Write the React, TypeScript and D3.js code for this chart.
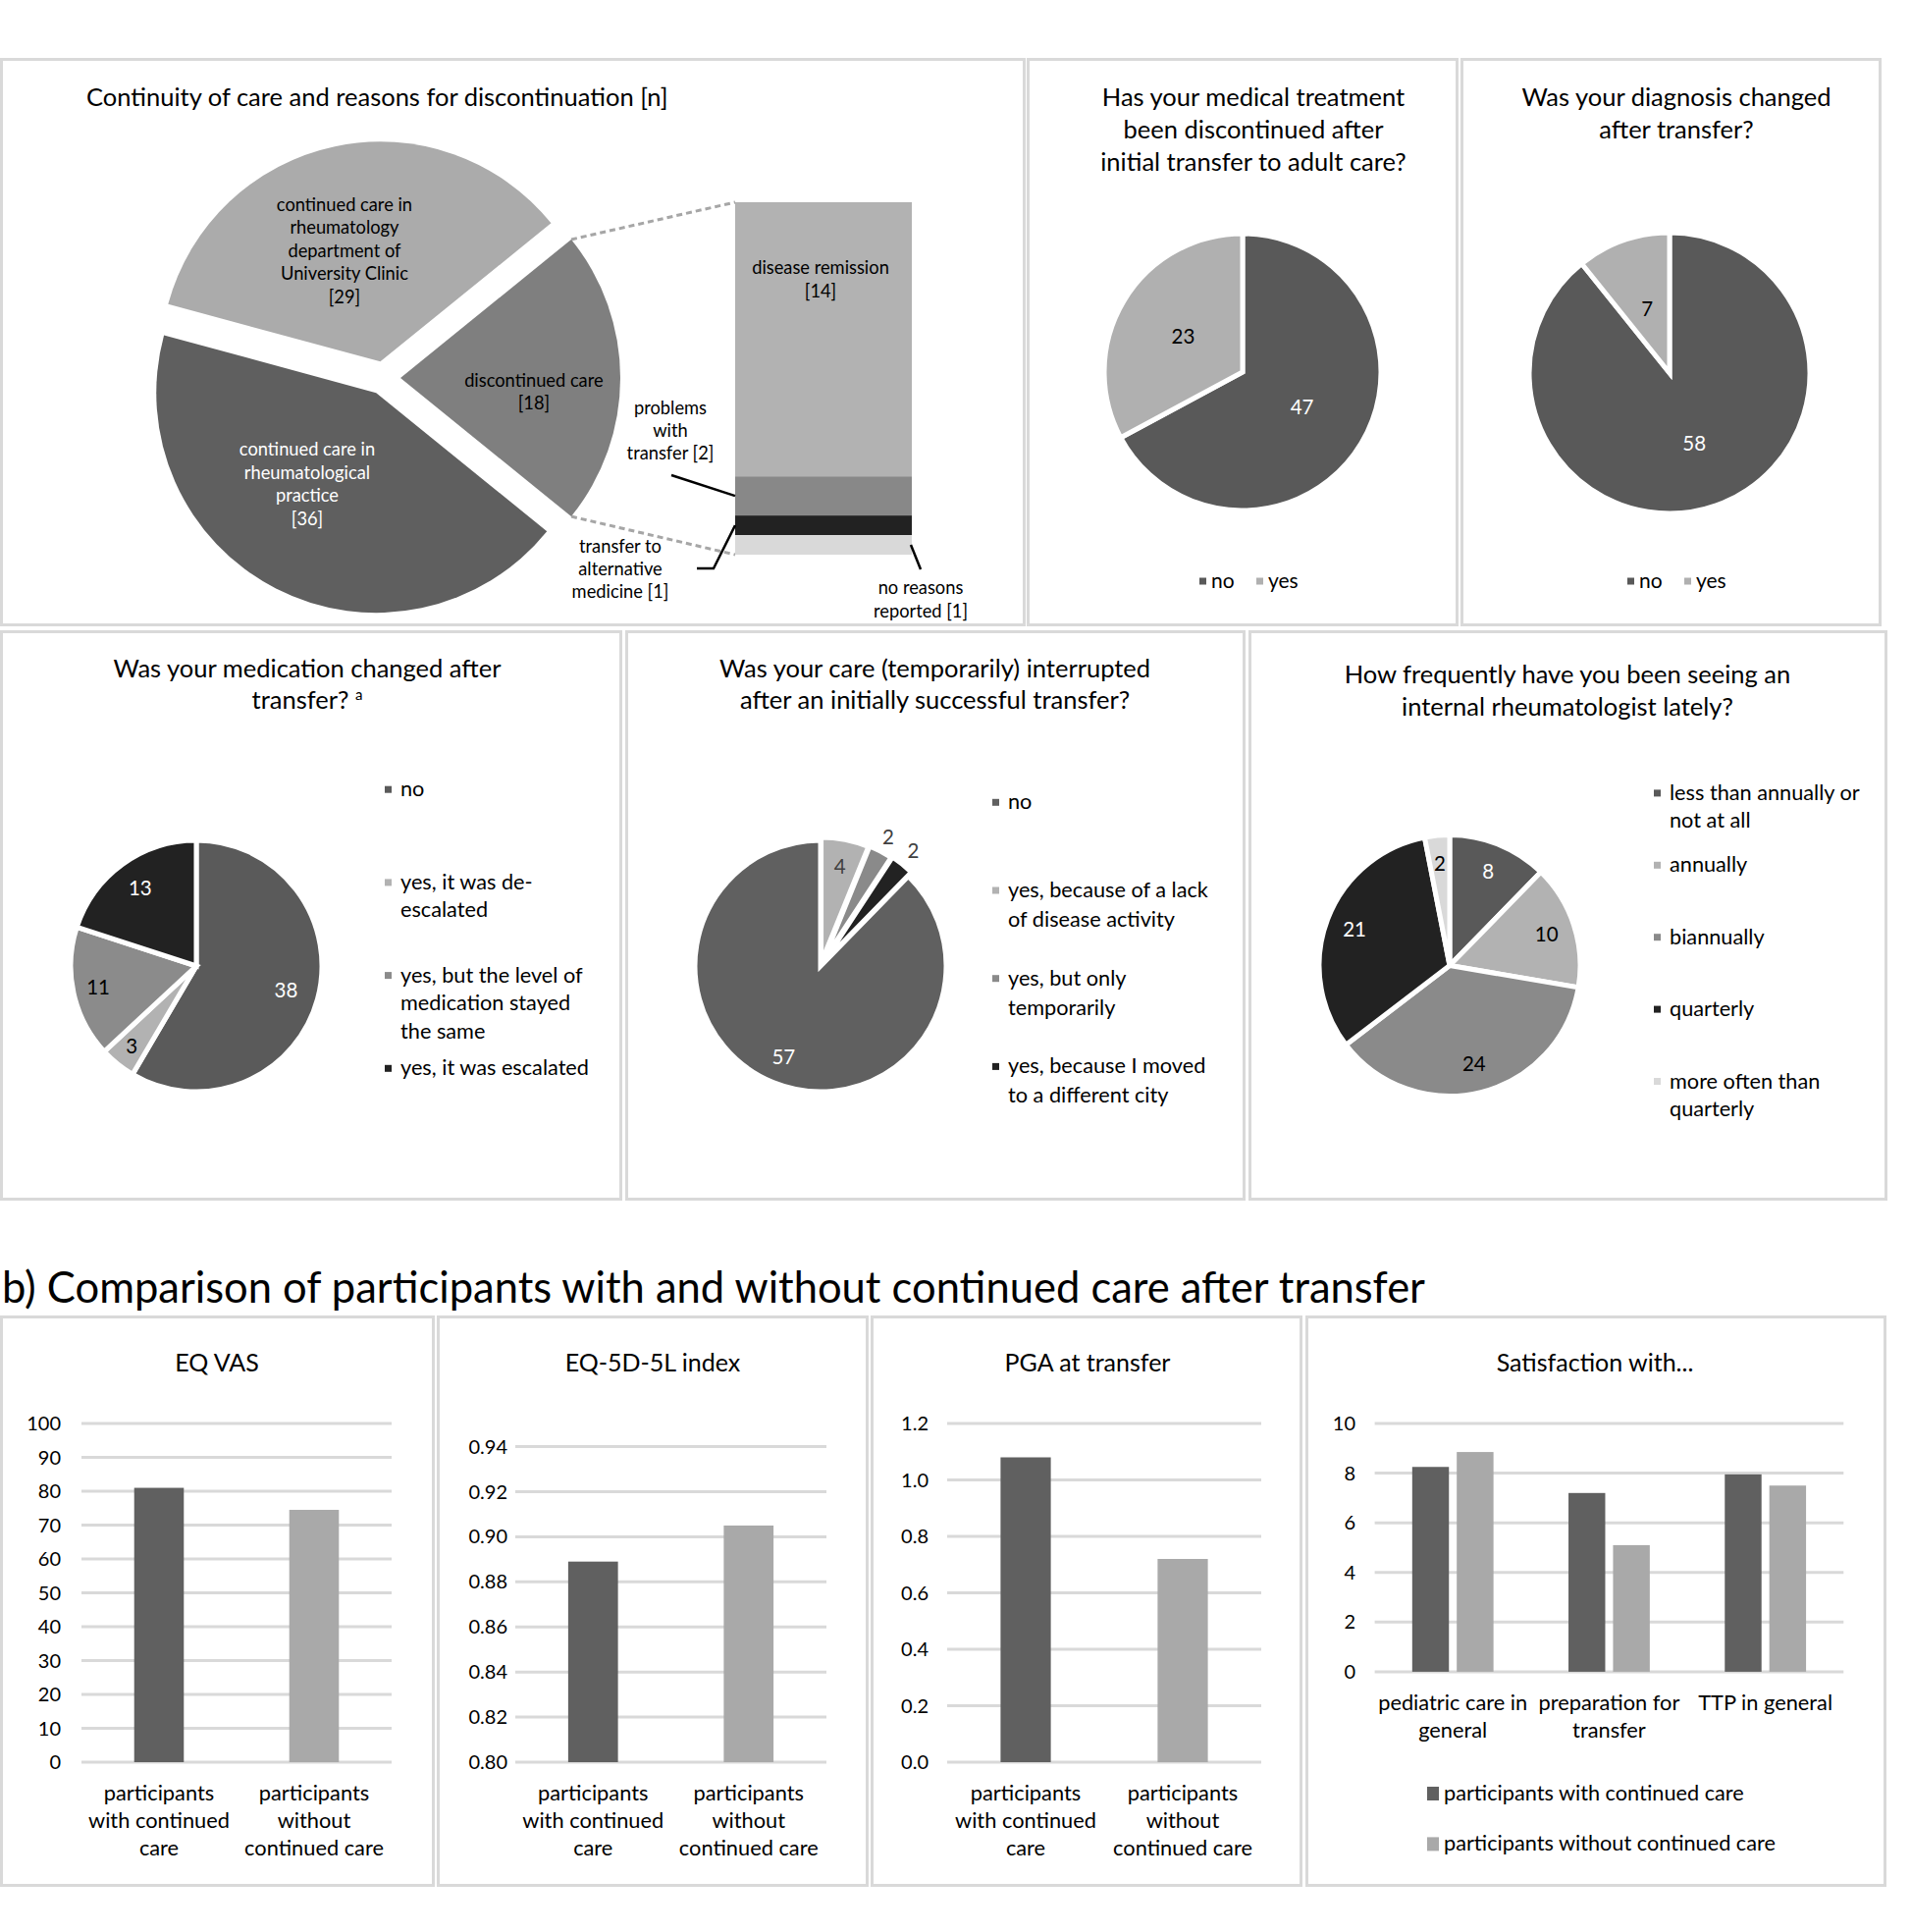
import React from "react";
import * as d3 from "d3";

const FONT = "Lato, 'Open Sans', sans-serif";
const BORDER = "#d9d9d9";
const TITLE = 25.5;
const LEG = 21.7;

// ---------- Panel A: continuity of care (bar of pie) ----------
const continuityCategories = [
  "discontinued care",
  "continued care in rheumatological practice",
  "continued care in rheumatology department of University Clinic",
];
const continuityValues = [18, 36, 29];
const continuityLines = [
  ["discontinued care"],
  ["continued care in", "rheumatological", "practice"],
  ["continued care in", "rheumatology", "department of", "University Clinic"],
];
const continuityColors = ["#7f7f7f", "#5f5f5f", "#ababab"];
const continuityTextColors = ["#000", "#fff", "#000"];

const reasonCategories = [
  "disease remission",
  "problems with transfer",
  "transfer to alternative medicine",
  "no reasons reported",
];
const reasonValues = [14, 2, 1, 1];
const reasonColors = ["#b2b2b2", "#888888", "#222222", "#d9d9d9"];

// ---------- Panels B, C ----------
const yesNoCategories = ["no", "yes"];
const discontinuedValues = [47, 23];
const diagnosisValues = [58, 7];
const yesNoColors = ["#595959", "#b0b0b0"];

// ---------- Panel D ----------
const medicationCategories = [
  "no",
  "yes, it was de-escalated",
  "yes, but the level of medication stayed the same",
  "yes, it was escalated",
];
const medicationLegendLines = [
  ["no"],
  ["yes, it was de-", "escalated"],
  ["yes, but the level of", "medication stayed", "the same"],
  ["yes, it was escalated"],
];
const medicationValues = [38, 3, 11, 13];
const medicationColors = ["#5a5a5a", "#b2b2b2", "#8b8b8b", "#222222"];

// ---------- Panel E ----------
const interruptCategories = [
  "no",
  "yes, because of a lack of disease activity",
  "yes, but only temporarily",
  "yes, because I moved to a different city",
];
const interruptLegendLines = [
  ["no"],
  ["yes, because of a lack", "of disease activity"],
  ["yes, but only", "temporarily"],
  ["yes, because I moved", "to a different city"],
];
const interruptValues = [57, 4, 2, 2];
const interruptColors = ["#606060", "#b2b2b2", "#8a8a8a", "#222222"];

// ---------- Panel F ----------
const frequencyCategories = [
  "less than annually or not at all",
  "annually",
  "biannually",
  "quarterly",
  "more often than quarterly",
];
const frequencyLegendLines = [
  ["less than annually or", "not at all"],
  ["annually"],
  ["biannually"],
  ["quarterly"],
  ["more often than", "quarterly"],
];
const frequencyValues = [8, 10, 24, 21, 2];
const frequencyColors = ["#595959", "#b2b2b2", "#8a8a8a", "#222222", "#d9d9d9"];

// ---------- Bottom bar charts ----------
const groupCategories = ["participants with continued care", "participants without continued care"];
const groupLabelLines = [
  ["participants", "with continued", "care"],
  ["participants", "without", "continued care"],
];
const groupColors = ["#606060", "#a9a9a9"];
const eqVasValues = [81.0, 74.5];
const eqVasTicks = [0, 10, 20, 30, 40, 50, 60, 70, 80, 90, 100];
const eq5dValues = [0.889, 0.905];
const eq5dTicks = [0.8, 0.82, 0.84, 0.86, 0.88, 0.9, 0.92, 0.94];
const pgaValues = [1.08, 0.72];
const pgaTicks = [0, 0.2, 0.4, 0.6, 0.8, 1.0, 1.2];

const satCategories = ["pediatric care in general", "preparation for transfer", "TTP in general"];
const satLabelLines = [["pediatric care in", "general"], ["preparation for", "transfer"], ["TTP in general"]];
const satWithValues = [8.25, 7.2, 7.95];
const satWithoutValues = [8.85, 5.1, 7.5];
const satTicks = [0, 2, 4, 6, 8, 10];
const satSeries = ["participants with continued care", "participants without continued care"];

// ---------- helpers ----------
type TProps = {
  x: number;
  y: number;
  lines: string[];
  size: number;
  lh: number;
  anchor?: "start" | "middle" | "end";
  fill?: string;
};
const Txt = ({ x, y, lines, size, lh, anchor = "middle", fill = "#000" }: TProps) => (
  <text fontFamily={FONT} fontSize={size} textAnchor={anchor} fill={fill}>
    {lines.map((l, i) => (
      <tspan key={i} x={x} y={y + i * lh + size * 0.35}>
        {l}
      </tspan>
    ))}
  </text>
);

const Panel = ({ x0, y0, x1, y1 }: { x0: number; y0: number; x1: number; y1: number }) => (
  <rect x={x0 + 1.5} y={y0 + 1.5} width={x1 - x0 - 3} height={y1 - y0 - 3} fill="#fff" stroke={BORDER} strokeWidth={3} />
);

type PieProps = {
  cx: number;
  cy: number;
  r: number;
  values: number[];
  colors: string[];
  startAngle?: number;
  explode?: number[];
  labelR: number[];
  labelColors: string[];
  labelSize?: number;
  strokeW?: number;
};
const Pie = ({ cx, cy, r, values, colors, startAngle = 0, explode, labelR, labelColors, labelSize = 20.5, strokeW = 4 }: PieProps) => {
  const arcs = d3.pie<number>().sort(null).value((d) => d).startAngle(startAngle).endAngle(startAngle + 2 * Math.PI)(values);
  const arc = d3.arc<d3.PieArcDatum<number>>().innerRadius(0).outerRadius(r);
  return (
    <g>
      {arcs.map((a, i) => {
        const mid = (a.startAngle + a.endAngle) / 2;
        const e = explode ? explode[i] : 0;
        const ox = Math.sin(mid) * e;
        const oy = -Math.cos(mid) * e;
        const lr = r * labelR[i];
        return (
          <g key={i} transform={`translate(${cx + ox},${cy + oy})`}>
            <path d={arc(a) || ""} fill={colors[i]} stroke="#fff" strokeWidth={strokeW} strokeLinejoin="miter" />
            <text
              x={Math.sin(mid) * lr}
              y={-Math.cos(mid) * lr + labelSize * 0.35}
              fontFamily={FONT}
              fontSize={labelSize}
              textAnchor="middle"
              fill={labelColors[i]}
            >
              {values[i]}
            </text>
          </g>
        );
      })}
    </g>
  );
};

const VLegend = ({ x, y0, step, lines, colors, size = LEG, lh = 28.5 }: { x: number; y0: number; step: number; lines: string[][]; colors: string[]; size?: number; lh?: number }) => (
  <g>
    {lines.map((ls, i) => (
      <g key={i}>
        <rect x={x - 4} y={y0 + i * step - 3} width={7} height={7} fill={colors[i]} />
        <Txt x={x + 12} y={y0 + i * step} lines={ls} size={size} lh={lh} anchor="start" fill="#000" />
      </g>
    ))}
  </g>
);

type BarProps = {
  gx0: number;
  gx1: number;
  yTop: number;
  yBot: number;
  domain: [number, number];
  ticks: number[];
  fmt: (v: number) => string;
  tickX: number;
  values: number[];
  title: string;
  titleX: number;
};
const BarChart = ({ gx0, gx1, yTop, yBot, domain, ticks, fmt, tickX, values, title, titleX }: BarProps) => {
  const y = d3.scaleLinear().domain(domain).range([yBot, yTop]);
  const x = d3.scaleBand().domain(groupCategories).range([gx0, gx1]);
  const bw = x.bandwidth() * 0.32;
  return (
    <g>
      <Txt x={titleX} y={1388} lines={[title]} size={25} lh={30} />
      {ticks.map((t, i) => (
        <g key={i}>
          <line x1={gx0} x2={gx1} y1={y(t)} y2={y(t)} stroke={BORDER} strokeWidth={3} />
          <Txt x={tickX} y={y(t)} lines={[fmt(t)]} size={20} lh={20} anchor="end" />
        </g>
      ))}
      {groupCategories.map((g, i) => (
        <rect key={g} x={(x(g) as number) + (x.bandwidth() - bw) / 2} y={y(values[i])} width={bw} height={y(domain[0]) - y(values[i])} fill={groupColors[i]} />
      ))}
      {groupCategories.map((g, i) => (
        <Txt key={g} x={(x(g) as number) + x.bandwidth() / 2} y={1826.5} lines={groupLabelLines[i]} size={21.8} lh={27.8} />
      ))}
    </g>
  );
};

const SatChart = () => {
  const gx0 = 1400.6, gx1 = 1878.3;
  const y = d3.scaleLinear().domain([0, 10]).range([1702.9, 1450]);
  const x = d3.scaleBand().domain(satCategories).range([gx0, gx1]);
  const step = x.bandwidth();
  const bw = step * 0.235;
  const gap = step * 0.05;
  return (
    <g>
      <Txt x={1625} y={1388} lines={["Satisfaction with..."]} size={25} lh={30} />
      {satTicks.map((t) => (
        <g key={t}>
          <line x1={gx0} x2={gx1} y1={y(t)} y2={y(t)} stroke={BORDER} strokeWidth={3} />
          <Txt x={1381} y={y(t)} lines={[String(t)]} size={20} lh={20} anchor="end" />
        </g>
      ))}
      {satCategories.map((c, i) => {
        const cxm = (x(c) as number) + step / 2;
        return (
          <g key={c}>
            <rect x={cxm - gap / 2 - bw} y={y(satWithValues[i])} width={bw} height={y(0) - y(satWithValues[i])} fill={groupColors[0]} />
            <rect x={cxm + gap / 2} y={y(satWithoutValues[i])} width={bw} height={y(0) - y(satWithoutValues[i])} fill={groupColors[1]} />
            <Txt x={cxm} y={1734} lines={satLabelLines[i]} size={21.8} lh={28} />
          </g>
        );
      })}
      {satSeries.map((s, i) => (
        <g key={s}>
          <rect x={1454} y={1820 + i * 51.4} width={12} height={14} fill={groupColors[i]} />
          <Txt x={1471} y={1826.5 + i * 51.4} lines={[s]} size={21.7} lh={20} anchor="start" />
        </g>
      ))}
    </g>
  );
};

// label placement for the bar-of-pie slices (fraction of radius, angular shift in degrees)
const continuityLabelR = [0.61, 0.52, 0.53];
const continuityLabelShift = [6, 10, -6];

const ContinuityPanel = () => {
  const cx = 391, cy = 385, r = 224, ex = 17;
  const total = d3.sum(continuityValues);
  const sa = Math.PI / 2 - (continuityValues[0] / total) * Math.PI;
  const arcs = d3.pie<number>().sort(null).value((d) => d).startAngle(sa).endAngle(sa + 2 * Math.PI)(continuityValues);
  const arc = d3.arc<d3.PieArcDatum<number>>().innerRadius(0).outerRadius(r);
  // bar of pie
  const bx0 = 749, bx1 = 929;
  const by = d3.scaleLinear().domain([0, d3.sum(reasonValues)]).range([206, 565]);
  const cum = reasonValues.map((_, i) => d3.sum(reasonValues.slice(0, i)));
  const segMid = (i: number) => by(cum[i] + reasonValues[i] / 2);
  // connector from discontinued slice corners
  const d0 = arcs[0];
  const mid0 = (d0.startAngle + d0.endAngle) / 2;
  const ox = cx + Math.sin(mid0) * ex, oy = cy - Math.cos(mid0) * ex;
  const pTop = [ox + Math.sin(d0.startAngle) * r, oy - Math.cos(d0.startAngle) * r];
  const pBot = [ox + Math.sin(d0.endAngle) * r, oy - Math.cos(d0.endAngle) * r];
  const LS = 18.3;
  return (
    <g>
      <Txt x={88} y={99.5} lines={["Continuity of care and reasons for discontinuation [n]"]} size={TITLE} lh={30} anchor="start" />
      <line x1={pTop[0]} y1={pTop[1]} x2={bx0} y2={by(0)} stroke="#a6a6a6" strokeWidth={3} strokeDasharray="6 4" />
      <line x1={pBot[0]} y1={pBot[1]} x2={bx0} y2={by(d3.sum(reasonValues))} stroke="#a6a6a6" strokeWidth={3} strokeDasharray="6 4" />
      {arcs.map((a, i) => {
        const mid = (a.startAngle + a.endAngle) / 2;
        const tx = cx + Math.sin(mid) * ex, ty = cy - Math.cos(mid) * ex;
        const lines = [...continuityLines[i], `[${continuityValues[i]}]`];
        const la = mid + (continuityLabelShift[i] * Math.PI) / 180;
        const lx = Math.sin(la) * r * continuityLabelR[i];
        const ly = -Math.cos(la) * r * continuityLabelR[i];
        return (
          <g key={i} transform={`translate(${tx},${ty})`}>
            <path d={arc(a) || ""} fill={continuityColors[i]} />
            <Txt x={lx} y={ly - ((lines.length - 1) * 23.6) / 2} lines={lines} size={LS} lh={23.6} fill={continuityTextColors[i]} />
          </g>
        );
      })}
      {reasonValues.map((v, i) => (
        <rect key={i} x={bx0} y={by(cum[i])} width={bx1 - bx0} height={by(cum[i] + v) - by(cum[i])} fill={reasonColors[i]} />
      ))}
      <Txt x={(bx0 + bx1) / 2 - 3} y={273} lines={["disease remission", `[${reasonValues[0]}]`]} size={LS} lh={24} />
      <Txt x={683} y={415.5} lines={["problems", "with", `transfer [${reasonValues[1]}]`]} size={LS} lh={23} />
      <line x1={684} y1={484} x2={bx0} y2={segMid(1)} stroke="#000" strokeWidth={2.5} />
      <Txt x={632} y={557} lines={["transfer to", "alternative", `medicine [${reasonValues[2]}]`]} size={LS} lh={23} />
      <polyline points={`710,579 727,579 ${bx0},${segMid(2)}`} fill="none" stroke="#000" strokeWidth={2.5} />
      <Txt x={938} y={599} lines={["no reasons", `reported [${reasonValues[3]}]`]} size={LS} lh={24} />
      <line x1={928} y1={segMid(3)} x2={938} y2={580} stroke="#000" strokeWidth={2.5} />
    </g>
  );
};

const HLegend = ({ x, y, colors, labels, gap }: { x: number; y: number; colors: string[]; labels: string[]; gap: number }) => (
  <g>
    {labels.map((l, i) => (
      <g key={l}>
        <rect x={x + i * gap} y={y - 3} width={7} height={7} fill={colors[i]} />
        <Txt x={x + i * gap + 12} y={y} lines={[l]} size={21} lh={20} anchor="start" />
      </g>
    ))}
  </g>
);

export default function App() {
  const intTotal = d3.sum(interruptValues);
  const intStart = (2 * Math.PI * (intTotal - interruptValues[0])) / intTotal;
  return (
    <div style={{ position: "absolute", left: 0, top: 0, width: 1947, height: 1968, background: "#fff" }}>
      <svg width={1947} height={1968} viewBox="0 0 1947 1968" style={{ display: "block" }}>
        <rect x={0} y={0} width={1947} height={1968} fill="#fff" />
        {/* Top row panels */}
        <Panel x0={0} y0={59} x1={1045} y1={638} />
        <Panel x0={1046} y0={59} x1={1486} y1={638} />
        <Panel x0={1488} y0={59} x1={1917} y1={638} />
        {/* Middle row */}
        <Panel x0={0} y0={642} x1={634} y1={1223} />
        <Panel x0={637} y0={642} x1={1269} y1={1223} />
        <Panel x0={1272} y0={642} x1={1923} y1={1223} />
        {/* Bottom row */}
        <Panel x0={0} y0={1340} x1={443} y1={1922} />
        <Panel x0={445} y0={1340} x1={885} y1={1922} />
        <Panel x0={887} y0={1340} x1={1327} y1={1922} />
        <Panel x0={1330} y0={1340} x1={1922} y1={1922} />

        <ContinuityPanel />

        {/* Panel B */}
        <Txt x={1277} y={99.5} lines={["Has your medical treatment", "been discontinued after", "initial transfer to adult care?"]} size={TITLE} lh={32.6} />
        <Pie cx={1266} cy={379} r={141} values={discontinuedValues} colors={yesNoColors} labelR={[0.5, 0.5]} labelColors={["#fff", "#000"]} strokeW={5} />
        <HLegend x={1222} y={591.5} colors={yesNoColors} labels={yesNoCategories} gap={58} />

        {/* Panel C */}
        <Txt x={1708} y={99.5} lines={["Was your diagnosis changed", "after transfer?"]} size={TITLE} lh={32.6} />
        <Pie cx={1701} cy={380} r={143} values={diagnosisValues} colors={yesNoColors} labelR={[0.53, 0.48]} labelColors={["#fff", "#000"]} strokeW={5} />
        <HLegend x={1658} y={591.5} colors={yesNoColors} labels={yesNoCategories} gap={58} />

        {/* Panel D */}
        <text fontFamily={FONT} fontSize={TITLE} textAnchor="middle" fill="#000">
          <tspan x={313} y={681.4 + 8.9}>Was your medication changed after</tspan>
          <tspan x={313} y={713.4 + 8.9}>transfer? <tspan fontSize={15} dy={-9}>a</tspan></tspan>
        </text>
        <Pie cx={200} cy={984} r={128} values={medicationValues} colors={medicationColors} labelR={[0.74, 0.82, 0.8, 0.76]} labelColors={["#fff", "#000", "#000", "#fff"]} strokeW={5} />
        <VLegend x={396} y0={803.7} step={94.7} lines={medicationLegendLines} colors={medicationColors} />

        {/* Panel E */}
        <Txt x={952.6} y={681.4} lines={["Was your care (temporarily) interrupted", "after an initially successful transfer?"]} size={TITLE} lh={32} />
        <Pie cx={836} cy={984} r={128} values={interruptValues} colors={interruptColors} startAngle={intStart} explode={[0, 3, 4, 5]} labelR={[0.78, 0.78, 1.13, 1.14]} labelColors={["#fff", "#404040", "#404040", "#404040"]} strokeW={5} />
        <VLegend x={1015} y0={816.8} step={89.7} lines={interruptLegendLines} colors={interruptColors} lh={30} />

        {/* Panel F */}
        <Txt x={1597} y={687} lines={["How frequently have you been seeing an", "internal rheumatologist lately?"]} size={TITLE} lh={32.8} />
        <Pie cx={1477} cy={983.5} r={133} values={frequencyValues} colors={frequencyColors} labelR={[0.78, 0.78, 0.78, 0.78, 0.78]} labelColors={["#fff", "#000", "#000", "#fff", "#000"]} strokeW={5} />
        <VLegend x={1689} y0={807.4} step={73.4} lines={frequencyLegendLines} colors={frequencyColors} lh={28.2} />

        {/* Section b title */}
        <text x={2} y={1327} fontFamily={FONT} fontSize={43.5} fill="#000">
          b) Comparison of participants with and without continued care after transfer
        </text>

        <BarChart gx0={83} gx1={399} yTop={1450} yBot={1795} domain={[0, 100]} ticks={eqVasTicks} fmt={(v) => String(v)} tickX={62} values={eqVasValues} title="EQ VAS" titleX={221} />
        <BarChart gx0={525} gx1={842} yTop={1473.6} yBot={1795} domain={[0.8, 0.94]} ticks={eq5dTicks} fmt={(v) => v.toFixed(2)} tickX={517} values={eq5dValues} title="EQ-5D-5L index" titleX={665} />
        <BarChart gx0={965} gx1={1285} yTop={1450} yBot={1795} domain={[0, 1.2]} ticks={pgaTicks} fmt={(v) => v.toFixed(1)} tickX={946} values={pgaValues} title="PGA at transfer" titleX={1108} />
        <SatChart />
      </svg>
    </div>
  );
}
